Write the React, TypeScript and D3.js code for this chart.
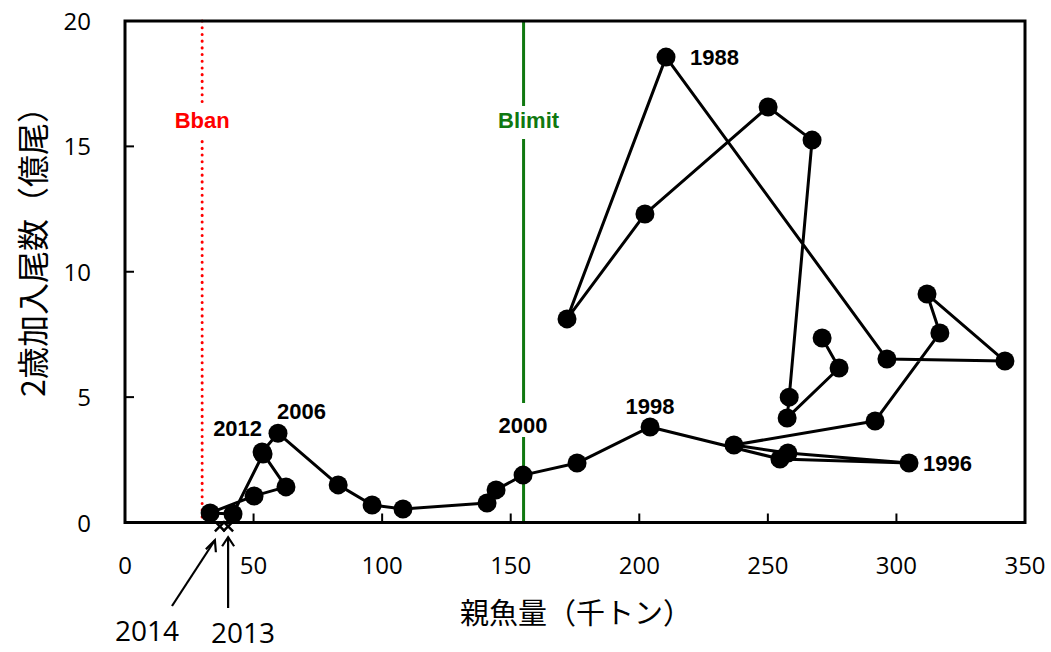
import React from "react";
import * as d3 from "d3";

// ---- data ----
const years = [1980, 1981, 1982, 1983, 1984, 1985, 1986, 1987, 1988, 1989, 1990, 1991, 1992, 1993, 1994, 1995, 1996, 1997, 1998, 1999, 2000, 2001, 2002, 2003, 2004, 2005, 2006, 2007, 2008, 2009, 2010, 2011, 2012];
const ssb = [271.1, 277.7, 257.5, 258.3, 267.2, 250.1, 202.2, 171.9, 210.4, 296.3, 342.2, 311.9, 316.9, 291.7, 236.8, 257.8, 304.9, 254.7, 204.2, 175.8, 154.8, 144.3, 140.8, 108.1, 96.1, 82.9, 59.5, 53.3, 62.6, 50.2, 33.1, 42.0, 53.7];
const recruits = [7.36, 6.16, 4.17, 5.0, 15.25, 16.57, 12.3, 8.12, 18.56, 6.52, 6.44, 9.11, 7.56, 4.05, 3.09, 2.77, 2.37, 2.53, 3.81, 2.37, 1.89, 1.3, 0.78, 0.54, 0.7, 1.5, 3.56, 2.81, 1.42, 1.06, 0.38, 0.34, 2.73];

const estYears = [2013, 2014];
const estSsb = [40.1, 36.9];
const estRecruits = [-0.15, -0.15];

const labeledYears = [1988, 1996, 1998, 2000, 2006, 2012];

const xTicks = [0, 50, 100, 150, 200, 250, 300, 350];
const yTicks = [0, 5, 10, 15, 20];

const bban = 30;
const blimit = 155;

const xTitle = "親魚量（千トン）";
const yTitle = "2歳加入尾数（億尾）";

// ---- layout ----
const W = 1051;
const H = 652;
const left = 125;
const right = 1025;
const top = 21;
const bottom = 522.5;

const labelPos: Record<number, { dx: number; dy: number; anchor: string }> = {
  1988: { dx: 24, dy: 8, anchor: "start" },
  1996: { dx: 14, dy: 8, anchor: "start" },
  1998: { dx: 0, dy: -13, anchor: "middle" },
  2000: { dx: 0, dy: -42, anchor: "middle" },
  2006: { dx: -1, dy: -14, anchor: "start" },
  2012: { dx: -1, dy: -18, anchor: "end" },
};

export default function App() {
  const x = d3.scaleLinear().domain([0, 350]).range([left, right]);
  const y = d3.scaleLinear().domain([0, 20]).range([bottom, top]);
  const pts = years.map((yr, i) => ({ yr, sx: x(ssb[i]), sy: y(recruits[i]) }));
  const line = d3
    .line<{ sx: number; sy: number }>()
    .x((d) => d.sx)
    .y((d) => d.sy);
  const est = estYears.map((yr, i) => ({ yr, sx: x(estSsb[i]), sy: y(estRecruits[i]) }));

  const numFont = "'Open Sans', 'Noto Sans', sans-serif";
  const labFont = "'Liberation Sans', Arial, sans-serif";
  const cjkFont = "'Noto Sans CJK JP', sans-serif";

  const xb = x(bban);
  const xl = x(blimit);

  const p2000 = pts[years.indexOf(2000)];

  const e2013 = est[0];
  const e2014 = est[1];

  return (
    <svg
      width={W}
      height={H}
      style={{ position: "absolute", left: 0, top: 0, background: "#fff" }}
      xmlns="http://www.w3.org/2000/svg"
    >
      <rect x={0} y={0} width={W} height={H} fill="#fff" />
      {/* reference lines */}
      <line x1={xb} x2={xb} y1={top} y2={bottom} stroke="#ff0000" strokeWidth={3} strokeDasharray="0.1 6.6" strokeLinecap="round" />
      <line x1={xl} x2={xl} y1={top} y2={bottom} stroke="#107810" strokeWidth={3} />
      {/* label backgrounds */}
      <rect x={xb - 30} y={106} width={60} height={32} fill="#fff" />
      <rect x={xl - 34} y={106} width={70} height={33} fill="#fff" />
      <rect x={p2000.sx - 30} y={403} width={60} height={34} fill="#fff" />
      <text x={xb} y={128} textAnchor="middle" fill="#ff0000" fontFamily={labFont} fontWeight="bold" fontSize={22}>
        Bban
      </text>
      <text x={xl + 5} y={128} textAnchor="middle" fill="#107810" fontFamily={labFont} fontWeight="bold" fontSize={22}>
        Blimit
      </text>

      {/* frame & ticks */}
      <rect x={left} y={top} width={right - left} height={bottom - top} fill="none" stroke="#000" strokeWidth={3} />
      {xTicks.map((t) => (
        <g key={"xt" + t}>
          {t > 0 && t < 350 && <line x1={x(t)} x2={x(t)} y1={bottom} y2={bottom - 9} stroke="#000" strokeWidth={2} />}
          <text x={x(t)} y={574} textAnchor="middle" fontFamily={numFont} fontSize={24} fill="#000">
            {t}
          </text>
        </g>
      ))}
      {yTicks.map((t) => (
        <g key={"yt" + t}>
          {t > 0 && t < 20 && <line x1={left} x2={left + 9} y1={y(t)} y2={y(t)} stroke="#000" strokeWidth={2} />}
          <text x={91} y={y(t) + 9} textAnchor="end" fontFamily={numFont} fontSize={24} fill="#000">
            {t}
          </text>
        </g>
      ))}

      {/* axis titles */}
      <text x={576} y={624} textAnchor="middle" fontFamily={cjkFont} fontSize={29} fill="#000">
        {xTitle}
      </text>
      <text
        transform={`translate(45,244) rotate(-90)`}
        textAnchor="middle"
        fontFamily={cjkFont}
        fontSize={32}
        fill="#000"
      >
        {yTitle}
      </text>

      {/* data */}
      <path d={line(pts) || ""} fill="none" stroke="#000" strokeWidth={3} strokeLinejoin="round" />
      {pts.map((p) => (
        <circle key={"c" + p.yr} cx={p.sx} cy={p.sy} r={9.5} fill="#000" />
      ))}
      {est.map((p) => (
        <path
          key={"e" + p.yr}
          d={`M${p.sx - 5},${p.sy - 5}L${p.sx + 5},${p.sy + 5}M${p.sx - 5},${p.sy + 5}L${p.sx + 5},${p.sy - 5}`}
          stroke="#000"
          strokeWidth={2.5}
        />
      ))}

      {/* year labels */}
      {pts
        .filter((p) => labeledYears.includes(p.yr))
        .map((p) => {
          const o = labelPos[p.yr];
          return (
            <text
              key={"l" + p.yr}
              x={p.sx + o.dx}
              y={p.sy + o.dy}
              textAnchor={o.anchor}
              fontFamily={labFont}
              fontWeight="bold"
              fontSize={22}
              fill="#000"
            >
              {p.yr}
            </text>
          );
        })}

      {/* arrows for 2013/2014 */}
      <g stroke="#000" strokeWidth={2.2} fill="none">
        <line x1={172} y1={606} x2={e2014.sx - 5} y2={e2014.sy + 14} />
        <path
          d={`M${e2014.sx - 5 - 9},${e2014.sy + 14 + 9}L${e2014.sx - 5},${e2014.sy + 14}L${e2014.sx - 5 + 1},${e2014.sy + 14 + 12}`}
        />
        <line x1={e2013.sx} y1={608} x2={e2013.sx} y2={e2013.sy + 11} />
        <path d={`M${e2013.sx - 6},${e2013.sy + 20}L${e2013.sx},${e2013.sy + 11}L${e2013.sx + 6},${e2013.sy + 20}`} />
      </g>
      <text x={147} y={641} textAnchor="middle" fontFamily={numFont} fontSize={28} fill="#000">
        2014
      </text>
      <text x={243} y={643} textAnchor="middle" fontFamily={numFont} fontSize={28} fill="#000">
        2013
      </text>
    </svg>
  );
}
